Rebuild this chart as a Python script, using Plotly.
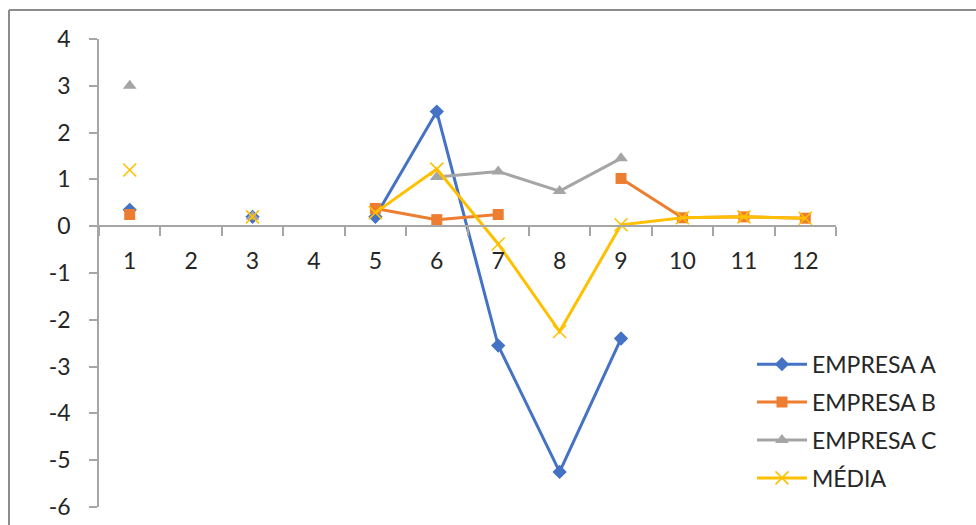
import plotly.graph_objects as go

# Monthly values per company (None = no data for that month)
months = ["1", "2", "3", "4", "5", "6", "7", "8", "9", "10", "11", "12"]
empresa_a = [0.35, None, 0.2, None, 0.2, 2.45, -2.55, -5.25, -2.4, None, None, None]
empresa_b = [0.25, None, None, None, 0.38, 0.14, 0.25, None, 1.02, 0.18, 0.2, 0.17]
empresa_c = [3.0, None, 0.2, None, None, 1.05, 1.17, 0.75, 1.45, None, None, None]
media = [1.2, None, 0.2, None, 0.29, 1.22, -0.38, -2.25, 0.03, 0.18, 0.2, 0.17]

y_ticks = [4, 3, 2, 1, 0, -1, -2, -3, -4, -5, -6]
y_tick_text = ["4", "3", "2", "1", "0", "-1", "-2", "-3", "-4", "-5", "-6"]

FONT = "Lato"
TEXT = "#262626"
AXIS = "#A6A6A6"

W, H = 976, 525
L, R, T, B = 99, 140, 39, 18

fig = go.Figure()

series = [
    ("EMPRESA A", empresa_a, "#4472C4", dict(symbol="diamond", size=11)),
    ("EMPRESA B", empresa_b, "#ED7D31", dict(symbol="square", size=11)),
    ("EMPRESA C", empresa_c, "#A5A5A5", dict(symbol="triangle-up", size=12)),
    ("MÉDIA", media, "#FFC000", dict(symbol="x-thin", size=13,
                                   line=dict(width=1.6, color="#FFC000"))),
]

for i, (name, vals, color, marker) in enumerate(series):
    fig.add_trace(go.Scatter(
        x=months, y=vals, name=name, mode="lines+markers",
        line=dict(color=color, width=3),
        marker=dict(color=color, **marker),
        connectgaps=False,
        legendgroup=f"g{i}",
    ))

# zero position of the y range inside the plot area
y_min, y_max = -6, 4
zero_pos = (0 - y_min) / (y_max - y_min)

fig.update_layout(
    width=W, height=H,
    margin=dict(l=L, r=R, t=T, b=B),
    paper_bgcolor="white", plot_bgcolor="white",
    font=dict(family=FONT, color=TEXT, size=23),
    showlegend=True,
    legend=dict(
        x=0.886, y=0.351, xanchor="left", yanchor="top",
        font=dict(size=23, family=FONT, color=TEXT),
        tracegroupgap=5, itemwidth=50,
        bgcolor="rgba(0,0,0,0)",
    ),
    xaxis=dict(
        type="category", range=[-0.5, 11.5],
        anchor="free", position=zero_pos, automargin=False,
        showline=True, linecolor=AXIS, linewidth=1.5,
        ticks="outside", tickson="boundaries", ticklen=9, tickcolor=AXIS, tickwidth=1.5,
        showgrid=False, zeroline=False,
        tickfont=dict(size=23, family=FONT, color=TEXT),
        ticklabelstandoff=14,
    ),
    yaxis=dict(
        range=[y_min, y_max], tickvals=y_ticks, ticktext=y_tick_text,
        automargin=False,
        showline=True, linecolor=AXIS, linewidth=1.5,
        ticks="outside", ticklen=8, tickcolor=AXIS, tickwidth=1.5,
        showgrid=False, zeroline=False,
        tickfont=dict(size=23, family=FONT, color=TEXT),
        ticklabelstandoff=14,
    ),
)

# chart-area frame (left and top edges)
pw, ph = W - L - R, H - T - B
def px(x):
    return (x - L) / pw
def py(y):
    return (H - B - y) / ph

frame = dict(type="line", xref="paper", yref="paper",
             line=dict(color="#8C8C8C", width=2), layer="below")
fig.add_shape(x0=px(9), x1=px(980), y0=py(10), y1=py(10), **frame)
fig.add_shape(x0=px(9), x1=px(9), y0=py(10), y1=py(530), **frame)

fig.write_html("out.html")
